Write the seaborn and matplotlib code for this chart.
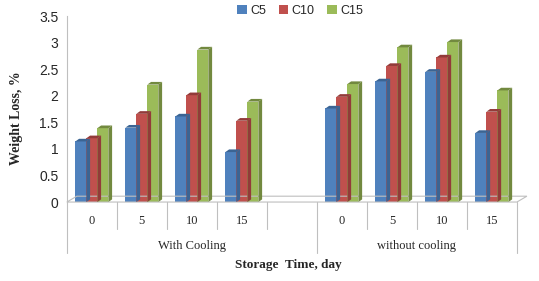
import numpy as np
import pandas as pd
import matplotlib
matplotlib.use("Agg")
import matplotlib.pyplot as plt
import seaborn as sns
from matplotlib.patches import Polygon, Patch

# ── data ───────────────────────────────────────────────
groups = ["With Cooling", "without cooling"]
days = ["0", "5", "10", "15"]
series = ["C5", "C10", "C15"]
c5_vals = [1.14, 1.40, 1.61, 0.94, 1.76, 2.27, 2.45, 1.30]
c10_vals = [1.20, 1.66, 2.01, 1.53, 1.98, 2.56, 2.72, 1.70]
c15_vals = [1.39, 2.21, 2.87, 1.89, 2.22, 2.91, 3.01, 2.10]

colors = ["#4F81BD", "#C0504D", "#9BBB59"]
side_colors = ["#3B6493", "#923B39", "#72893F"]

keys = [f"{g}|{d}" for g in groups for d in days]
order = keys[:4] + ["gap"] + keys[4:]

rows = []
for s, vals in zip(series, [c5_vals, c10_vals, c15_vals]):
    for k, v in zip(keys, vals):
        rows.append({"key": k, "series": s, "value": v})
df = pd.DataFrame(rows)

# ── plot ───────────────────────────────────────────────
sns.set_style("white")
fig = plt.figure(figsize=(5.39, 2.81), dpi=100)
ax = fig.add_axes([0.124, 0.281, 0.835, 0.662])

sns.barplot(data=df, x="key", y="value", hue="series", order=order,
            hue_order=series, palette=colors, width=0.66, saturation=1,
            edgecolor="none", legend=False, ax=ax)

ax.set_xlim(-0.5, 8.5)
ax.set_ylim(0, 3.5)

# pseudo 3d faces from the drawn bars
dx, dy = 0.075, 0.05
for i, s in enumerate(series):
    for p in ax.containers[i]:
        x, w, h = p.get_x(), p.get_width(), p.get_height()
        if np.isnan(h) or h == 0:
            continue
        ax.add_patch(Polygon([(x + w, 0), (x + w + dx, dy), (x + w + dx, h + dy), (x + w, h)],
                             closed=True, facecolor=side_colors[i], edgecolor="none", zorder=2))
        ax.add_patch(Polygon([(x, h), (x + dx, h + dy), (x + w + dx, h + dy), (x + w, h)],
                             closed=True, facecolor=side_colors[i], edgecolor="none", zorder=2))

# floor
ax.add_patch(Polygon([(-0.5, 0), (8.5, 0), (8.7, 0.11), (-0.3, 0.11)], closed=True,
                     facecolor="none", edgecolor="#BFBFBF", lw=0.8, clip_on=False, zorder=1))

for sp in ["top", "right", "bottom"]:
    ax.spines[sp].set_visible(False)
ax.spines["left"].set_color("#BFBFBF")
ax.spines["left"].set_linewidth(0.8)

ax.set_yticks(np.arange(0, 3.51, 0.5))
ax.set_yticklabels(["0", "0.5", "1", "1.5", "2", "2.5", "3", "3.5"],
                   fontsize=10, family="Liberation Sans")
ax.tick_params(axis="y", length=0, pad=6)
ax.tick_params(axis="x", length=0)
ax.set_xticks([])
ax.set_xlabel("")
ax.set_ylabel("Weight Loss, %", fontsize=10, fontweight="bold",
              family="Liberation Serif")
ax.yaxis.set_label_coords(-0.097, 0.45)

# category axis labels
tr = ax.get_xaxis_transform()
for i, k in enumerate(order):
    if k == "gap":
        continue
    ax.text(i, -0.1, k.split("|")[1], transform=tr, ha="center", va="center",
            fontsize=9, family="Liberation Serif")
ax.text(2.0, -0.235, groups[0], transform=tr, ha="center", va="center",
        fontsize=9, family="Liberation Serif")
ax.text(6.5, -0.235, groups[1], transform=tr, ha="center", va="center",
        fontsize=9, family="Liberation Serif")
for b in np.arange(-0.5, 9, 1.0):
    bottom = -0.274 if b in (-0.5, 4.5, 8.5) else -0.145
    ax.plot([b, b], [0, bottom], transform=tr, color="#BFBFBF", lw=0.8, clip_on=False)

fig.text(0.535, 0.057, "Storage  Time, day", ha="center", va="center",
         fontsize=9.5, fontweight="bold", family="Liberation Serif")

handles = [Patch(facecolor=c, edgecolor="none") for c in colors]
fig.legend(handles, series, loc="center", bbox_to_anchor=(0.557, 0.962), ncol=3,
           frameon=False, handlelength=0.75, handleheight=0.75,
           handletextpad=0.3, columnspacing=1.0, prop={"family": "Liberation Sans", "size": 9})

fig.savefig("out.png", dpi=100)
